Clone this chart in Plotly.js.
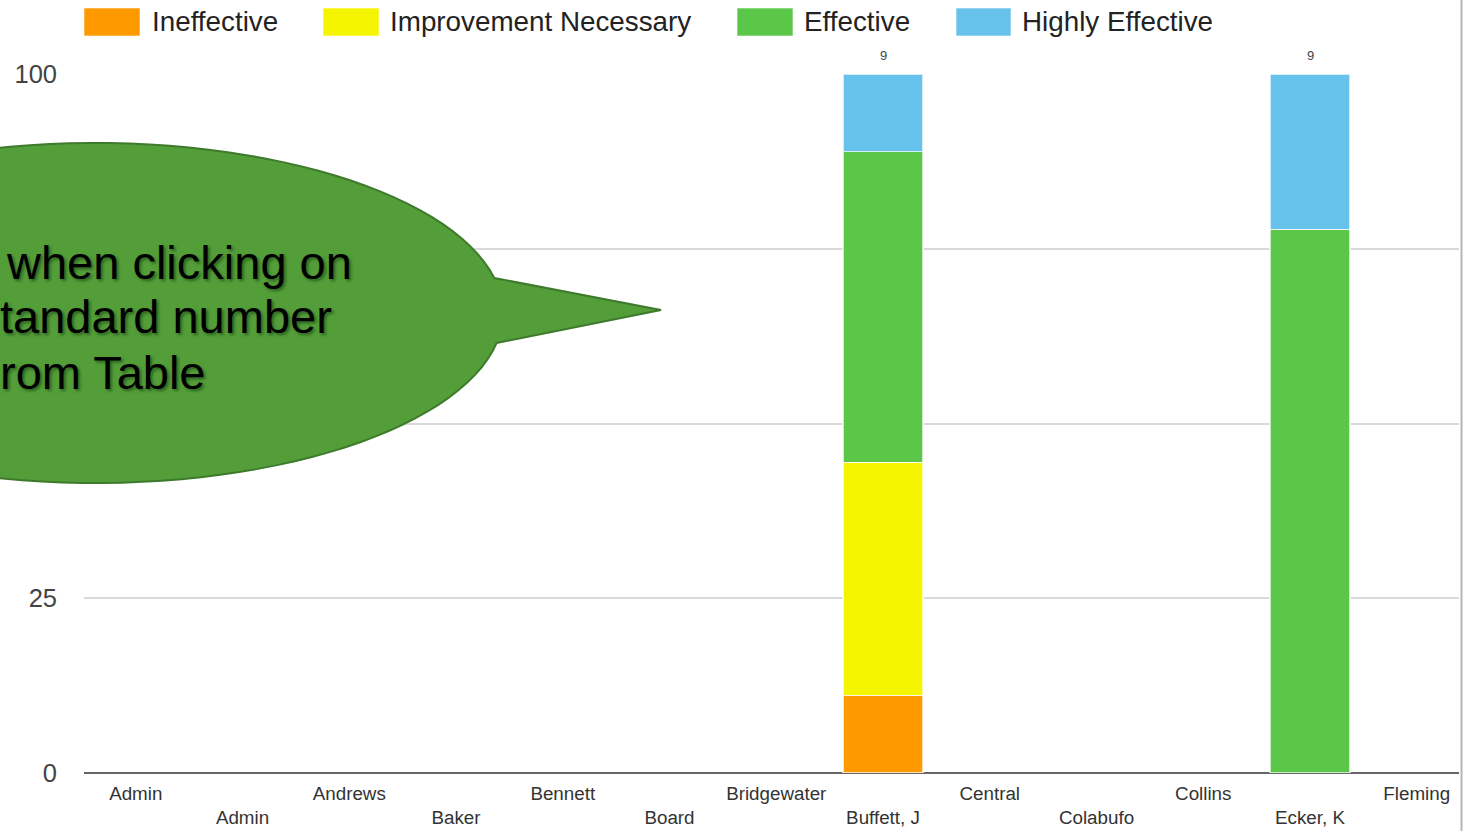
<!DOCTYPE html>
<html><head><meta charset="utf-8">
<script src="https://cdn.plot.ly/plotly-3.0.1.min.js"></script>
<style>html,body{margin:0;padding:0;background:#fff;overflow:hidden;} #chart{width:1464px;height:831px;}</style>
</head><body><div id="chart"></div>
<script>
// ---- data ----
const categories = ["Admin","Admin","Andrews","Baker","Bennett","Board","Bridgewater","Buffett, J","Central","Colabufo","Collins","Ecker, K","Fleming"];
const seriesNames = ["Ineffective","Improvement Necessary","Effective","Highly Effective"];
const seriesColors = ["#ff9900","#f5f500","#5bc748","#66c2ea"];
// staff counts per category (null = no data)
const ineffective          = [null,null,null,null,null,null,null,1,null,null,null,0,null];
const improvementNecessary = [null,null,null,null,null,null,null,3,null,null,null,0,null];
const effective            = [null,null,null,null,null,null,null,4,null,null,null,7,null];
const highlyEffective      = [null,null,null,null,null,null,null,1,null,null,null,2,null];
const yTickVals = [0,25,50,75,100];
const yTickText = ["0","25","","","100"];   // 50 and 75 are hidden under the callout in the picture
const calloutLines = ["when clicking on","tandard number","rom Table"];

// ---- build ----
const counts = [ineffective, improvementNecessary, effective, highlyEffective];
const idx = categories.map((c,i)=>i);
const totals = idx.map(i => counts.reduce((s,a)=> s + (a[i]||0), 0));

const traces = counts.map((arr,k)=>({
  type:'bar', name: seriesNames[k], x: idx,
  y: arr.map((v,i)=> (v && totals[i]) ? v/totals[i]*100 : null),
  marker:{color: seriesColors[k], line:{color:'rgba(255,255,255,0.7)', width:1.5}},
  showlegend:false, hoverinfo:'x+y+name'
}));

// plot area in pixels
const L=84, R=1459, T=74, B=773;
const px2x = p => (p-L)/(R-L);
const py2y = p => (B-p)/(B-T);

const shapes = [];
const annotations = [];

// legend (custom, large swatches)
const legRects = [[84,140],[323,379],[737,793],[956,1011]];
const legText = [152,390,804,1022];
seriesNames.forEach((n,k)=>{
  shapes.push({type:'rect', xref:'paper', yref:'paper', x0:px2x(legRects[k][0]), x1:px2x(legRects[k][1]),
    y0:py2y(36), y1:py2y(8), fillcolor:seriesColors[k], line:{color:'rgba(255,255,255,0.6)', width:1}});
  annotations.push({xref:'paper', yref:'paper', x:px2x(legText[k]-2), y:py2y(22), xanchor:'left', yanchor:'middle',
    text:n, showarrow:false, font:{family:'Liberation Sans, Arial, sans-serif', size:27.8, color:'#222'}});
});

// totals above bars
idx.forEach(i=>{
  if (totals[i]) annotations.push({x:i, y:100, xref:'x', yref:'y', yanchor:'bottom', yshift:9,
    text:String(totals[i]), showarrow:false, font:{family:'Liberation Sans, Arial, sans-serif', size:13, color:'#444'}});
});

// callout bubble
const cx=95, cy=313, rx=408, ry=170;
const th1 = Math.asin((343-cy)/ry), th2 = 2*Math.PI - Math.asin((cy-278)/ry);
let pts=[];
const N=120;
for (let j=0;j<=N;j++){ const t = th1 + (th2-th1)*j/N; pts.push([cx+rx*Math.cos(t), cy+ry*Math.sin(t)]); }
pts.push([661,310]);
let path = 'M ' + pts.map(p=> px2x(p[0]).toFixed(5)+','+py2y(p[1]).toFixed(5)).join(' L ') + ' Z';
shapes.push({type:'path', xref:'paper', yref:'paper', path:path, fillcolor:'#549e3a', line:{color:'#3e7a2c', width:2}, layer:'above'});

const calloutPos = [[4,262],[-2,316],[-2,373]];
calloutLines.forEach((t,k)=>{
  annotations.push({xref:'paper', yref:'paper', x:px2x(calloutPos[k][0]), y:py2y(calloutPos[k][1]), xanchor:'left', yanchor:'middle',
    text:t, showarrow:false, font:{family:'Liberation Sans, Arial, sans-serif', size:47, color:'#000', shadow:'2px 2px 3px rgba(0,40,0,0.5)'}});
});

// right container border
shapes.push({type:'line', xref:'paper', yref:'paper', x0:px2x(1461.5), x1:px2x(1461.5), y0:py2y(840), y1:py2y(-10), line:{color:'#b5b5b5', width:2}, layer:'above'});

const layout = {
  width:1464, height:831,
  margin:{l:L, r:1464-R, t:T, b:831-B, pad:0},
  paper_bgcolor:'#fff', plot_bgcolor:'#fff',
  barmode:'stack', bargap:0.25,
  showlegend:false,
  xaxis:{range:[(L-135.75)/106.75, (R-135.75)/106.75], tickvals:idx,
    ticktext: categories.map((c,i)=> i%2 ? '<br>'+c : c),
    tickangle:0, showgrid:false, zeroline:false, showline:false, ticks:'', ticklabelstandoff:7,
    tickfont:{family:'Liberation Sans, Arial, sans-serif', size:18.8, color:'#333'}, fixedrange:true},
  yaxis:{range:[0,100], tickvals:yTickVals, ticktext:yTickText, showgrid:true, gridcolor:'#d9d9d9', gridwidth:1.5,
    zeroline:true, zerolinecolor:'#666', zerolinewidth:2, showline:false, ticks:'', ticklabelstandoff:26,
    tickfont:{family:'Liberation Sans, Arial, sans-serif', size:25.5, color:'#444'}, fixedrange:true},
  shapes:shapes, annotations:annotations
};
Plotly.newPlot('chart', traces, layout, {displayModeBar:false});
</script></body></html>
